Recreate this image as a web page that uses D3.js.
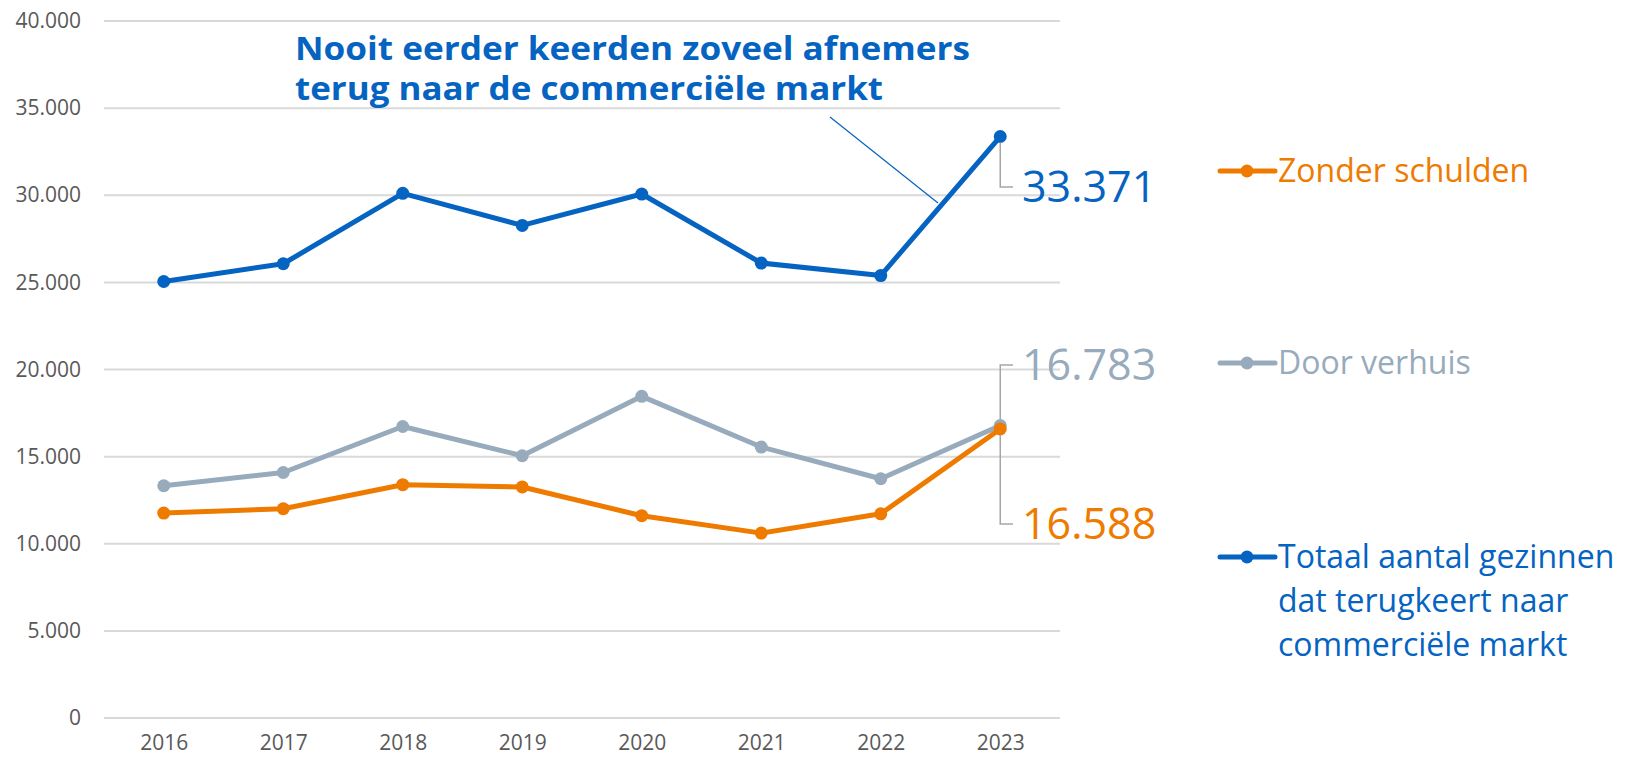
<!DOCTYPE html>
<html>
<head>
<meta charset="utf-8">
<script src="https://cdn.jsdelivr.net/npm/d3@7"></script>
<style>
  body { margin: 0; background: #fff; }
  svg { display: block; font-family: "Open Sans", sans-serif; }
  .grid line { stroke: #d9d9d9; stroke-width: 2; }
  .tick text { fill: #595959; font-size: 21px; font-family: "Open Sans", sans-serif; }
</style>
</head>
<body>
<div id="chart"></div>
<script>
const W = 1626, H = 758;

// data
const years = ["2016", "2017", "2018", "2019", "2020", "2021", "2022", "2023"];
const totaal = [25050, 26070, 30110, 28270, 30070, 26110, 25390, 33371];
const verhuis = [13330, 14090, 16730, 15050, 18460, 15550, 13730, 16783];
const zonderSchulden = [11760, 12010, 13390, 13260, 11610, 10610, 11720, 16588];
const yTicks = [0, 5000, 10000, 15000, 20000, 25000, 30000, 35000, 40000];
const titleLines = ["Nooit eerder keerden zoveel afnemers", "terug naar de commerciële markt"];

const series = [
  { name: ["Zonder schulden"], values: zonderSchulden, color: "#ee7b00", legY: 171, labY: 539, dir: 1 },
  { name: ["Door verhuis"], values: verhuis, color: "#97abbd", legY: 363, labY: 380, dir: -1 },
  { name: ["Totaal aantal gezinnen", "dat terugkeert naar", "commerciële markt"], values: totaal, color: "#0563c1", legY: 557, labY: 202, dir: 1 }
];

const fmt = v => d3.format(",")(v).replace(/,/g, ".");

const svg = d3.select("#chart").append("svg")
  .attr("width", W).attr("height", H);

const x = d3.scalePoint().domain(years).range([104, 1060]).padding(0.5);
const y = d3.scaleLinear().domain([0, 40000]).range([718, 21]);

// gridlines
svg.append("g").attr("class", "grid")
  .selectAll("line").data(yTicks).enter().append("line")
  .attr("x1", 104).attr("x2", 1060)
  .attr("y1", d => y(d)).attr("y2", d => y(d));

// y axis labels
const yAxis = svg.append("g").attr("transform", "translate(81,0)")
  .call(d3.axisLeft(y).tickValues(yTicks).tickSize(0).tickPadding(0).tickFormat(d => d === 0 ? "0" : fmt(d)));
yAxis.select(".domain").remove();

// x axis labels
const xAxis = svg.append("g").attr("transform", "translate(0,735)")
  .call(d3.axisBottom(x).tickSize(0).tickPadding(0));
xAxis.select(".domain").remove();
xAxis.selectAll("text").attr("dy", "0.71em");

// title annotation
svg.append("line")
  .attr("x1", 830).attr("y1", 117).attr("x2", 938).attr("y2", 203)
  .attr("stroke", "#0563c1").attr("stroke-width", 1.2);
svg.selectAll(".title").data(titleLines).enter().append("text")
  .attr("class", "title")
  .attr("x", 295).attr("y", (d, i) => 60 + i * 40)
  .attr("fill", "#0563c1").attr("font-weight", 700).attr("font-size", 32)
  .attr("textLength", (d, i) => i === 0 ? 675 : 588)
  .attr("lengthAdjust", "spacingAndGlyphs")
  .text(d => d);

const line = d3.line().x((d, i) => x(years[i])).y(d => y(d));

// draw in order: gray, orange, blue on top
const drawOrder = [series[1], series[0], series[2]];
drawOrder.forEach(s => {
  const g = svg.append("g");
  g.append("path").datum(s.values)
    .attr("d", line).attr("fill", "none")
    .attr("stroke", s.color).attr("stroke-width", 5).attr("stroke-linejoin", "round");
  g.selectAll("circle").data(s.values).enter().append("circle")
    .attr("cx", (d, i) => x(years[i])).attr("cy", d => y(d))
    .attr("r", 6.5).attr("fill", s.color);
});

// data labels for last point with leader lines
series.forEach(s => {
  const last = s.values[s.values.length - 1];
  const px = x(years[years.length - 1]);
  const py = y(last);
  const ly = s.labY - 15;
  svg.append("polyline")
    .attr("points", [[px, py + s.dir * 6], [px, ly], [1013, ly]].map(p => p.join(",")).join(" "))
    .attr("fill", "none").attr("stroke", "#a6a6a6").attr("stroke-width", 1.5);
  svg.append("text")
    .attr("x", 1022).attr("y", s.labY)
    .attr("fill", s.color).attr("font-size", 43)
    .text(fmt(last));
});

// legend
series.forEach(s => {
  const g = svg.append("g");
  g.append("line").attr("x1", 1220).attr("x2", 1275)
    .attr("y1", s.legY).attr("y2", s.legY)
    .attr("stroke", s.color).attr("stroke-width", 5).attr("stroke-linecap", "round");
  g.append("circle").attr("cx", 1247).attr("cy", s.legY).attr("r", 6.5).attr("fill", s.color);
  g.selectAll("text").data(s.name).enter().append("text")
    .attr("x", 1278).attr("y", (d, i) => s.legY + 11 + i * 44)
    .attr("fill", s.color).attr("font-size", 32)
    .text(d => d);
});
</script>
</body>
</html>
